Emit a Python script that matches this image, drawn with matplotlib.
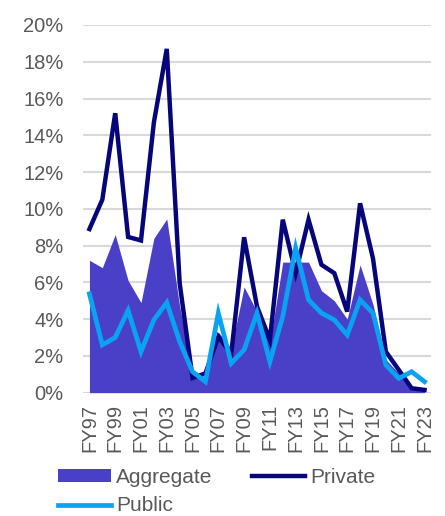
import numpy as np
import matplotlib
matplotlib.use('Agg')
from matplotlib import pyplot as plt

plt.rcParams['font.family'] = ['Liberation Sans', 'DejaVu Sans']

# data (percent)
years = ['FY97', 'FY98', 'FY99', 'FY00', 'FY01', 'FY02', 'FY03', 'FY04', 'FY05',
         'FY06', 'FY07', 'FY08', 'FY09', 'FY10', 'FY11', 'FY12', 'FY13', 'FY14',
         'FY15', 'FY16', 'FY17', 'FY18', 'FY19', 'FY20', 'FY21', 'FY22', 'FY23']
aggregate = [7.2, 6.8, 8.6, 6.1, 4.9, 8.4, 9.45, 4.7, 1.05, 0.7, 3.3, 2.4, 5.75,
             4.4, 2.7, 7.1, 7.1, 7.1, 5.55, 5.0, 4.0, 6.95, 4.8, 1.8, 1.05, 0.2, 0.1]
private = [8.9, 10.5, 15.2, 8.47, 8.28, 14.7, 18.7, 5.96, 0.8, 1.05, 3.05, 2.1, 8.45,
           4.69, 2.87, 9.41, 6.5, 9.41, 6.96, 6.5, 4.41, 10.3, 7.3, 2.23, 1.24, 0.24, 0.15]
public = [5.38, 2.6, 3.0, 4.47, 2.23, 3.96, 4.9, 2.78, 1.14, 0.6, 4.33, 1.6, 2.33,
          4.33, 1.69, 4.14, 7.87, 5.05, 4.33, 3.96, 3.14, 5.05, 4.33, 1.51, 0.78, 1.14, 0.6]

x = np.arange(len(years))
grey = '#595959'

fig = plt.figure(figsize=(4.45, 5.16), dpi=100)
ax = fig.add_axes([0.1865, 0.239, 0.782, 0.7126])

ax.fill_between(x, aggregate, color='#4A40C8', linewidth=0, label='Aggregate', zorder=2)
ax.plot(x, private, color='#06067A', linewidth=3.2, label='Private', zorder=3,
        solid_joinstyle='miter')
ax.plot(x, public, color='#0AA2F2', linewidth=3.4, label='Public', zorder=4,
        solid_joinstyle='miter')

ax.set_xlim(-0.5, 26.5)
ax.set_ylim(0, 20)
ax.set_yticks(np.arange(0, 21, 2))
ax.set_yticklabels([f'{v}%' for v in range(0, 21, 2)])
ax.set_xticks(x[::2])
ax.set_xticklabels(years[::2], rotation=90)
ax.grid(axis='y', color='#D9D9D9', linewidth=1.5, zorder=0)
ax.set_axisbelow(True)
for s in ax.spines.values():
    s.set_visible(False)
ax.tick_params(length=0, labelsize=14.5, labelcolor=grey)
ax.tick_params(axis='y', pad=14)
ax.tick_params(axis='x', pad=8)

h, l = ax.get_legend_handles_labels()
order = [0, 2, 1]
fig.legend([h[i] for i in order], [l[i] for i in order], ncol=2,
           loc='upper left', bbox_to_anchor=(0.107, 0.113), frameon=False,
           fontsize=15, labelcolor=grey, handlelength=2.55, handleheight=0.6,
           handletextpad=0.25, columnspacing=1.9, labelspacing=0.45, borderpad=0.0)

fig.savefig('out.png', dpi=100)
